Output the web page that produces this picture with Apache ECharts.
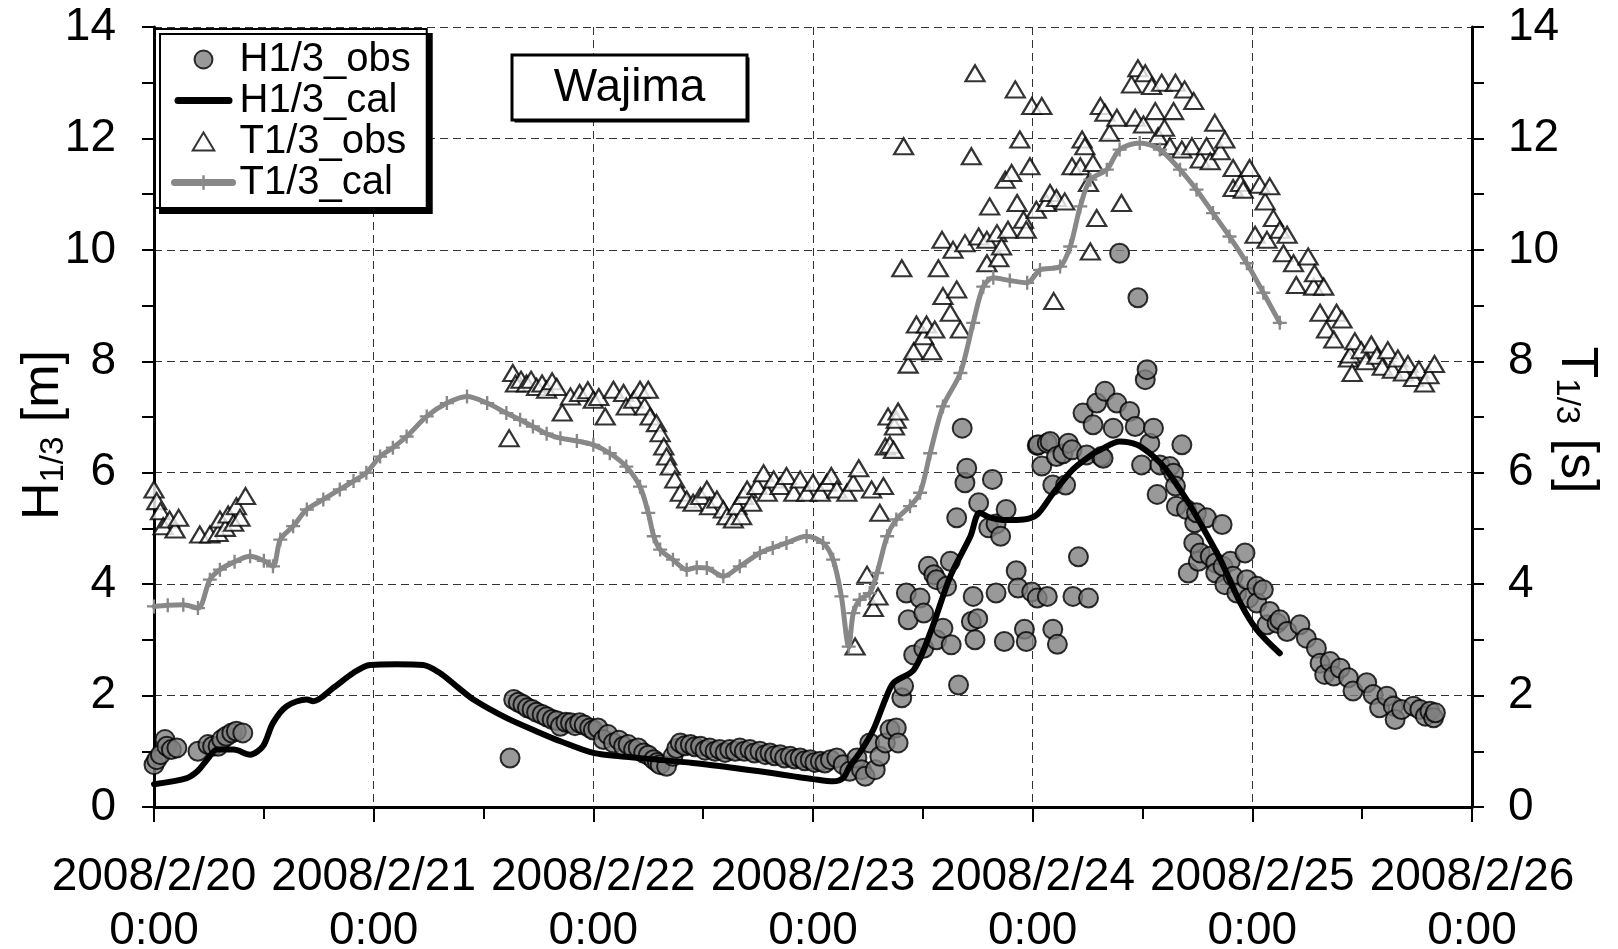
<!DOCTYPE html>
<html>
<head>
<meta charset="utf-8">
<script src="https://cdn.jsdelivr.net/npm/echarts@6/dist/echarts.min.js"></script>
<style>
  html, body { margin: 0; padding: 0; background: #fff; overflow: hidden; }
  #main { width: 1618px; height: 949px; }
</style>
</head>
<body>
<div id="main"></div>
<script>
// hours since 2008/2/20 0:00
var dayLabels = ['2008/2/20\n0:00', '2008/2/21\n0:00', '2008/2/22\n0:00', '2008/2/23\n0:00',
                 '2008/2/24\n0:00', '2008/2/25\n0:00', '2008/2/26\n0:00'];

// H1/3 observed [hour, m]
var hObs = [
  [0,0.76],[0.3,0.85],[0.7,0.94],[1.2,1.21],[1.4,1.09],[1.9,1.03],[2.5,1.06],[4.8,1.00],[5.9,1.12],[6.4,1.09],
  [7.0,1.09],[7.4,1.21],[7.9,1.27],[8.5,1.33],[9.0,1.36],[9.7,1.33],
  [38.9,0.88],[39.3,1.93],[39.8,1.88],[40.3,1.84],[40.8,1.78],[41.3,1.75],[41.8,1.70],[42.4,1.66],[42.9,1.62],
  [43.5,1.57],[44.0,1.55],[44.4,1.45],[45.0,1.52],[45.5,1.51],[46.0,1.46],[46.5,1.51],[47.0,1.47],[47.6,1.42],
  [48.0,1.38],[48.5,1.42],[49.1,1.21],[49.6,1.30],[50.2,1.15],[50.8,1.20],[51.3,1.09],[51.8,1.12],[52.4,1.03],
  [52.9,1.06],[53.5,0.97],[54.0,0.93],[54.6,0.85],[55.0,0.80],[55.3,0.76],[56.0,0.73],[56.7,0.91],[57.1,1.05],
  [57.5,1.15],[58.0,1.10],[58.6,1.12],[59.1,1.08],[59.7,1.09],[60.2,1.02],[60.7,1.06],[61.3,1.00],[61.8,1.03],
  [62.4,0.98],[62.9,1.03],[63.5,1.00],[64.0,1.06],[64.5,1.00],[65.1,1.03],[65.6,0.97],[66.2,1.00],[66.8,0.94],
  [67.3,0.97],[67.8,0.92],[68.4,0.94],[68.9,0.88],[69.5,0.91],[70.0,0.86],[70.6,0.88],[71.1,0.83],[71.7,0.85],
  [72.2,0.80],[72.8,0.82],[73.3,0.79],[73.9,0.85],[74.6,0.88],[75.3,0.76],[76.0,0.64],[76.8,0.88],[77.3,0.67],
  [77.7,0.55],[78.2,1.15],[78.8,0.67],[79.3,0.91],[79.9,1.15],[80.4,1.39],[81.1,1.42],[81.3,1.15],[81.7,1.96],
  [81.9,2.17],[82.2,3.84],[82.4,3.36],[83.0,2.73],[83.7,3.75],[84.1,2.85],[84.1,3.48],[84.6,4.32],[85.2,4.17],
  [85.5,3.00],[85.5,4.08],[86.2,3.21],[86.6,3.96],[87.0,4.41],[87.1,2.91],[87.7,5.19],[87.9,2.19],[88.3,6.80],
  [88.6,5.82],[88.8,6.08],[89.3,3.33],[89.5,3.78],[89.7,3.00],[90.1,5.46],[90.0,3.38],[91.2,5.01],[91.6,5.88],
  [92.0,5.08],[92.0,3.84],[92.5,4.86],[92.9,2.97],[93.1,5.34],[94.2,4.24],[94.4,3.93],[95.1,3.19],[95.3,2.97],
  [95.9,3.86],[96.5,3.75],[96.5,6.49],[96.6,6.50],[97.0,6.12],[97.6,6.53],[97.6,3.78],[97.9,6.56],[98.2,5.78],
  [98.2,3.19],[98.6,6.29],[98.7,2.92],[99.3,6.34],[99.6,5.78],[99.9,6.53],[100.3,6.41],[100.4,3.78],[101.0,4.49],
  [101.5,7.07],[101.9,6.32],[102.1,3.75],[102.6,6.86],[103.0,7.25],[103.5,6.29],[103.7,6.26],[103.9,7.46],
  [104.8,6.80],[105.2,7.25],[105.5,9.94],[106.6,7.10],[107.2,6.83],[107.5,9.14],[107.9,6.14],[108.3,7.67],
  [108.5,7.85],[108.8,6.53],[109.2,6.80],[109.6,5.61],[109.9,6.14],[111.0,6.11],[111.4,5.99],[111.6,5.76],
  [111.7,5.40],[112.3,6.50],[112.8,5.34],[113.0,4.20],[113.6,4.74],[113.7,5.10],[113.9,5.28],[114.1,4.41],
  [114.3,4.56],[115.0,5.19],[115.4,4.50],[116.0,4.38],[116.0,4.20],[116.7,5.07],[116.8,4.32],[117.0,3.99],
  [117.6,4.41],[117.9,4.14],[118.3,3.84],[119.2,4.56],[119.4,4.08],[119.6,3.75],[120.5,3.96],[120.5,3.66],
  [121.2,3.90],[121.6,3.27],[121.9,3.51],[122.7,3.30],[123.0,3.36],[123.8,3.15],[125.2,3.27],[125.9,3.03],
  [127.0,2.85],[127.4,2.58],[127.9,2.38],[128.5,2.61],[128.9,2.35],[129.6,2.49],[130.5,2.32],[131.0,2.08],
  [132.5,2.23],[133.2,2.02],[133.9,1.78],[134.7,1.99],[135.4,1.81],[135.6,1.57],[136.3,1.75],[137.6,1.81],
  [138.3,1.75],[138.9,1.63],[139.4,1.72],[139.8,1.60],[140.0,1.69]
];

// H1/3 calculated [hour, m]
var hCal = [
  [0,0.41],[3.6,0.52],[4.8,0.65],[5.8,0.85],[6.9,1.03],[8.7,1.03],[10.5,0.94],[11.9,1.09],[13.0,1.51],
  [14.5,1.81],[16.7,1.93],[17.4,1.90],[19.6,2.14],[21.8,2.41],[23.6,2.55],[26.5,2.56],[29.4,2.55],[31.2,2.41],
  [33.1,2.16],[34.9,1.93],[38.5,1.60],[42.2,1.33],[44.4,1.18],[48.0,0.97],[51.5,0.90],[55.0,0.85],[58.9,0.79],
  [62.0,0.73],[64.8,0.67],[67.5,0.61],[69.9,0.55],[72.0,0.50],[74.2,0.46],[75.3,0.52],[76.0,0.73],[77.1,0.97],
  [78.6,1.39],[79.9,1.93],[80.8,2.23],[83.0,2.46],[84.8,3.12],[87.0,4.14],[89.2,4.86],[90.2,5.28],[91.3,5.20],
  [93.1,5.15],[95.0,5.16],[96.5,5.25],[98.1,5.60],[100.4,6.06],[102.6,6.34],[103.4,6.41],[105.5,6.56],
  [107.4,6.50],[109.2,6.29],[110.6,6.05],[112.8,5.52],[114.3,5.10],[116.5,4.44],[118.7,3.66],[120.5,3.18],
  [123.0,2.76]
];

// T1/3 observed [hour, s]
var tObs = [
  [0.0,5.70],[0.3,5.49],[0.7,5.31],[1.0,5.04],[1.7,5.16],[2.3,4.98],[2.7,5.19],[5.0,4.89],[6.1,4.89],[7.0,4.92],
  [7.2,5.16],[7.8,5.01],[8.1,5.25],[8.7,5.10],[9.0,5.40],[9.4,5.19],[10.0,5.58],
  [38.8,6.62],[39.2,7.79],[39.5,7.60],[40.1,7.67],[40.7,7.60],[41.2,7.67],[41.8,7.54],[42.4,7.60],[42.9,7.49],
  [43.5,7.64],[44.0,7.54],[44.6,7.08],[45.5,7.37],[46.5,7.43],[47.4,7.48],[48.0,7.31],[48.6,7.36],[49.3,7.01],
  [50.2,7.49],[51.3,7.43],[51.6,7.19],[52.4,7.31],[53.1,7.49],[53.6,7.19],[54.0,7.49],[54.2,7.01],[54.9,6.89],
  [55.3,6.71],[55.7,6.47],[56.0,6.29],[56.4,6.11],[56.9,5.88],[57.5,5.64],[58.2,5.52],[58.9,5.46],[59.7,5.58],
  [60.4,5.70],[60.7,5.40],[61.5,5.52],[62.2,5.34],[62.6,5.22],[63.3,5.16],[63.7,5.40],[64.2,5.22],[64.4,5.58],
  [64.8,5.70],[65.3,5.46],[65.9,5.76],[66.6,5.99],[67.0,5.64],[67.7,5.88],[68.4,5.76],[69.1,5.94],[69.9,5.64],
  [70.6,5.88],[71.3,5.64],[72.0,5.82],[72.8,5.64],[73.5,5.82],[74.0,5.94],[74.6,5.70],[75.7,5.64],[76.4,5.82],
  [76.6,2.88],[77.0,6.08],[77.9,4.17],[78.4,5.70],[78.6,3.57],[79.1,3.78],[79.3,5.28],[79.7,5.76],[79.9,6.47],
  [80.2,7.01],[80.4,6.50],[80.8,6.41],[80.9,6.83],[81.1,6.95],[81.3,7.10],[81.7,9.67],[81.9,11.86],[82.4,7.94],
  [83.0,8.18],[83.3,8.66],[84.1,8.45],[84.4,8.66],[85.0,8.18],[85.3,8.57],[85.7,9.67],[86.1,10.18],[86.2,9.17],
  [87.0,8.87],[87.3,10.00],[87.7,9.29],[88.1,8.57],[88.6,10.12],[89.3,11.68],[89.7,13.17],[90.1,10.24],
  [91.0,10.18],[91.0,9.76],[91.3,10.78],[92.1,10.30],[92.3,9.85],[92.6,10.06],[93.0,11.26],[93.3,10.36],
  [93.7,11.38],[94.1,12.88],[94.3,10.84],[94.6,11.98],[95.0,10.54],[95.3,10.36],[95.7,11.50],[95.9,12.58],
  [96.4,10.72],[97.0,12.58],[97.5,10.84],[97.9,11.02],[98.3,9.08],[98.6,10.93],[99.5,10.87],[100.3,11.50],
  [101.2,11.50],[101.4,11.98],[101.7,11.86],[102.1,11.20],[102.3,9.97],[102.6,11.56],[103.0,10.57],[103.4,12.58],
  [103.9,12.46],[104.4,12.10],[105.2,12.37],[105.7,10.84],[106.8,12.97],[107.2,12.37],[107.5,13.26],[108.1,12.25],
  [108.3,13.17],[109.0,12.94],[109.4,12.49],[109.7,12.04],[110.1,13.00],[110.4,12.19],[111.0,11.86],[111.4,12.49],
  [111.6,13.00],[112.3,11.80],[112.6,12.88],[113.4,11.86],[113.6,12.67],[114.3,11.62],[115.0,11.86],[115.4,11.59],
  [115.9,12.28],[116.5,11.77],[117.0,11.98],[117.9,11.47],[117.9,11.11],[118.7,11.20],[119.0,11.08],[119.7,11.47],
  [120.3,10.27],[120.8,11.17],[121.4,10.87],[121.6,10.18],[121.9,11.14],[122.3,10.57],[123.0,10.36],[123.4,9.94],
  [123.8,10.27],[124.5,9.76],[124.8,9.37],[126.1,9.88],[126.7,9.34],[126.8,9.58],[127.4,8.87],[127.8,9.34],
  [128.1,8.57],[128.9,8.39],[129.2,8.87],[129.8,8.75],[130.5,8.05],[130.7,8.12],[130.9,7.79],[131.2,8.36],
  [131.9,8.20],[132.4,8.00],[133.0,8.30],[133.6,8.10],[134.2,7.90],[134.8,8.20],[135.3,7.85],[135.9,8.05],
  [136.5,7.80],[137.0,7.95],[137.6,7.70],[138.2,7.85],[138.8,7.60],[139.3,7.75],[139.9,7.95]
];

// T1/3 calculated [hour, s]
var tCal = [
  [0,3.60],[1.5,3.62],[3.2,3.63],[4.8,3.57],[6.1,4.08],[7.2,4.26],[8.8,4.40],[10.5,4.50],[12.0,4.42],[13.0,4.32],
  [13.8,4.80],[15.2,5.04],[16.7,5.34],[18.5,5.52],[20.3,5.70],[21.8,5.85],[23.2,6.00],[24.7,6.29],[26.1,6.45],
  [27.6,6.65],[29.8,7.01],[32.0,7.25],[34.2,7.37],[36.4,7.25],[38.5,7.07],[40.0,6.95],[41.4,6.83],[42.9,6.70],
  [44.4,6.62],[46.2,6.57],[48.0,6.50],[49.8,6.35],[51.6,6.11],[53.1,5.75],[54.0,5.28],[54.6,4.86],[55.3,4.62],
  [56.7,4.44],[58.2,4.26],[59.3,4.30],[60.4,4.29],[62.2,4.14],[64.0,4.32],[66.2,4.56],[67.6,4.65],[69.1,4.74],
  [71.3,4.86],[73.1,4.74],[74.2,4.44],[75.1,3.78],[75.9,2.88],[76.4,3.48],[77.1,3.72],[78.2,3.84],[79.0,4.20],
  [80.1,4.86],[81.1,5.16],[82.6,5.40],[83.7,5.64],[84.8,6.35],[86.2,7.19],[88.1,7.79],[89.5,8.69],[90.6,9.34],
  [91.7,9.50],[93.5,9.45],[95.4,9.41],[96.8,9.64],[99.0,9.70],[100.1,10.06],[101.2,10.78],[102.3,11.26],
  [104.1,11.44],[105.5,11.80],[107.7,11.92],[109.9,11.80],[112.1,11.44],[113.9,11.08],[115.7,10.66],
  [117.5,10.24],[119.4,9.76],[121.2,9.23],[123.0,8.69]
];

var FONT = 'Liberation Sans, Arial, sans-serif';
var plusIcon = 'path://M5,0H7V5H12V7H7V12H5V7H0V5H5Z';
var triIcon = 'path://M0,10L6,0L12,10Z';
var barIcon = 'path://M3.5,0H54.5A3.5,3.5,0,0,1,54.5,7H3.5A3.5,3.5,0,0,1,3.5,0Z';

var chart = echarts.init(document.getElementById('main'));

var option = {
    animation: false,
    backgroundColor: '#fff',
    textStyle: { fontFamily: FONT, color: '#000' },
    // station name box
    graphic: [
        { type: 'rect', z: 100, shape: { x: 514.5, y: 57.5, width: 235, height: 65 }, style: { fill: '#000' } },
        { type: 'rect', z: 101, shape: { x: 512, y: 55, width: 235, height: 65 },
          style: { fill: '#fff', stroke: '#000', lineWidth: 3 } },
        { type: 'text', z: 102, x: 629.5, y: 88,
          style: { text: 'Wajima', fontSize: 46, fontFamily: FONT, fill: '#000', align: 'center', verticalAlign: 'middle' } }
    ],
    legend: {
        orient: 'vertical',
        left: 155,
        top: 29,
        padding: [10, 16, 5, 16],
        itemGap: 0,
        itemWidth: 58,
        itemHeight: 18,
        backgroundColor: '#fff',
        borderColor: '#000',
        borderWidth: 2,
        shadowColor: '#000',
        shadowBlur: 0,
        shadowOffsetX: 5,
        shadowOffsetY: 5,
        textStyle: { fontFamily: FONT, fontSize: 40, color: '#000', lineHeight: 41, padding: [0, 0, 0, 2] },
        data: [
            { name: 'H1/3_obs', icon: 'circle' },
            { name: 'H1/3_cal', icon: barIcon },
            { name: 'T1/3_obs', icon: triIcon },
            { name: 'T1/3_cal', lineStyle: { width: 7, color: '#888', cap: 'round' } }
        ]
    },
    grid: { left: 154, right: 146, top: 27, bottom: 142, outerBoundsMode: 'none', containLabel: false },
    xAxis: {
        type: 'value',
        min: 0,
        max: 144,
        interval: 24,
        axisLine: { lineStyle: { color: '#000', width: 3 } },
        axisTick: { length: 15, lineStyle: { color: '#000', width: 2 } },
        minorTick: { show: true, splitNumber: 2, length: 12, lineStyle: { color: '#000', width: 2 } },
        axisLabel: {
            margin: 43,
            fontSize: 46,
            lineHeight: 54,
            color: '#000',
            fontFamily: FONT,
            formatter: function (v) { return dayLabels[Math.round(v / 24)]; }
        },
        splitLine: { show: true, lineStyle: { color: '#333', width: 1, type: [8, 5] } }
    },
    yAxis: [
        {
            type: 'value',
            min: 0,
            max: 14,
            interval: 2,
            position: 'left',
            name: '{m|H}{s|1/3}{m| [m]}',
            nameLocation: 'middle',
            nameRotate: 90,
            nameGap: 84,
            nameMoveOverlap: false,
            nameTextStyle: {
                padding: [0, 36, 0, 0],
                rich: {
                    m: { fontSize: 52, fontFamily: FONT, color: '#000', lineHeight: 58, verticalAlign: 'bottom' },
                    s: { fontSize: 33, fontFamily: FONT, color: '#000', lineHeight: 22, verticalAlign: 'bottom' }
                }
            },
            axisLine: { show: true, lineStyle: { color: '#000', width: 3 } },
            axisTick: { length: 12, lineStyle: { color: '#000', width: 2 } },
            minorTick: { show: true, splitNumber: 2, length: 12, lineStyle: { color: '#000', width: 2 } },
            axisLabel: { margin: 38, fontSize: 46, color: '#000', fontFamily: FONT },
            splitLine: { show: true, lineStyle: { color: '#333', width: 1, type: [8, 5] } }
        },
        {
            type: 'value',
            min: 0,
            max: 14,
            interval: 2,
            position: 'right',
            name: '{m|T}{s|1/3}{m| [s]}',
            nameLocation: 'middle',
            nameRotate: -90,
            nameGap: 78,
            nameMoveOverlap: false,
            nameTextStyle: {
                padding: [0, 0, 0, 6],
                rich: {
                    m: { fontSize: 52, fontFamily: FONT, color: '#000', lineHeight: 58, verticalAlign: 'bottom' },
                    s: { fontSize: 33, fontFamily: FONT, color: '#000', lineHeight: 22, verticalAlign: 'bottom' }
                }
            },
            axisLine: { show: true, lineStyle: { color: '#000', width: 3 } },
            axisTick: { length: 12, lineStyle: { color: '#000', width: 2 } },
            minorTick: { show: true, splitNumber: 2, length: 12, lineStyle: { color: '#000', width: 2 } },
            axisLabel: { margin: 36, fontSize: 46, color: '#000', fontFamily: FONT },
            splitLine: { show: false }
        }
    ],
    series: [
        {
            name: 'H1/3_obs',
            type: 'scatter',
            yAxisIndex: 0,
            symbol: 'circle',
            symbolSize: 19,
            itemStyle: { color: '#808080', borderColor: '#000', borderWidth: 2 },
            data: hObs,
            z: 2
        },
        {
            name: 'H1/3_cal',
            type: 'line',
            yAxisIndex: 0,
            symbol: 'none',
            smooth: 0.3,
            lineStyle: { color: '#000', width: 6, cap: 'round', join: 'round' },
            itemStyle: { color: '#000' },
            data: hCal,
            z: 3
        },
        {
            name: 'T1/3_obs',
            type: 'scatter',
            yAxisIndex: 1,
            symbol: 'triangle',
            symbolSize: [19, 16],
            itemStyle: { color: '#fff', borderColor: '#000', borderWidth: 2.2 },
            data: tObs,
            z: 4
        },
        {
            name: 'T1/3_cal',
            type: 'line',
            yAxisIndex: 1,
            symbol: plusIcon,
            symbolSize: 14,
            showAllSymbol: true,
            smooth: 0.3,
            lineStyle: { color: '#888', width: 5, cap: 'round', join: 'round' },
            itemStyle: { color: '#888' },
            data: tCal,
            z: 5
        }
    ]
};

chart.setOption(option);
</script>
</body>
</html>
